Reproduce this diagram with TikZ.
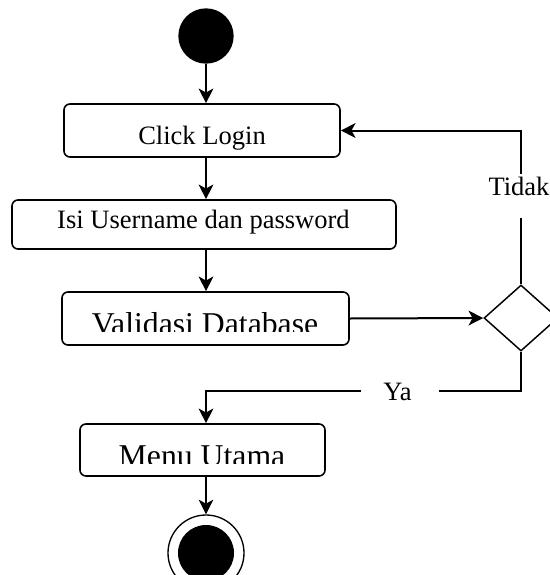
\documentclass[tikz,border=0pt]{standalone}
\usepackage{fontspec}
\setmainfont{Liberation Serif}
\usetikzlibrary{shapes.geometric,arrows.meta}

\begin{document}
\begin{tikzpicture}[x=0.75pt,y=0.75pt,yscale=-1,xscale=1,
  actbox/.style={draw,line width=1.2pt,rounded corners=4.5pt,inner sep=0pt},
  txt/.style={inner sep=0pt,font=\fontsize{19.9}{24}\selectfont},
  bigtxt/.style={inner sep=0pt,font=\fontsize{23.8}{28}\selectfont},
  flow/.style={line width=1.5pt,-{Stealth[length=11pt,width=11pt,inset=3pt]}},
  branch/.style={line width=1.2pt}]
\clip (0,0) rectangle (550,575);

%Start
\node [circle,fill,minimum size=41.5pt,inner sep=0pt] (start) at (206,36) {};
%Click Login
\node [actbox,minimum width=207pt,minimum height=39.75pt] (click) at (202,130.5) {};
\node [txt,anchor=base] (clicktxt) at (202,144) {Click Login};
%Isi Username
\node [actbox,minimum width=288pt,minimum height=36.75pt] (isi) at (204,224.5) {};
\node [txt,anchor=base] (isitxt) at (203.5,228) {Isi Username dan password};
%Validasi Database
\node [actbox,minimum width=215.25pt,minimum height=39.75pt] (valid) at (205.5,318.5) {};
\begin{scope}
\clip (70,300) rectangle (340,331.5);
\node [bigtxt,anchor=base] (validtxt) at (205,334) {Validasi Database};
\end{scope}
%Decision
\node [diamond,draw,line width=1.1pt,minimum width=55.5pt,minimum height=49.5pt,inner sep=0pt] (dec) at (521,318) {};
%Menu Utama
\node [actbox,minimum width=183.75pt,minimum height=39pt] (menu) at (202.5,450) {};
\begin{scope}
\clip (90,430) rectangle (320,463.5);
\node [bigtxt,anchor=base] (menutxt) at (202,466.6) {Menu Utama};
\end{scope}
%End
\node [circle,draw,line width=1pt,minimum size=57pt,inner sep=0pt] (fin) at (206,553) {};
\node [circle,fill,minimum size=42pt,inner sep=0pt] (finin) at (fin) {};

% Text Node
\node [txt,anchor=base] (tidak) at (519,195) {Tidak};
% Text Node
\node [txt,anchor=base] (ya) at (397.5,400) {Ya};

\coordinate (tktop) at (521,174);
\coordinate (tkbot) at (521,218);
\coordinate (yar) at (439,391);
\coordinate (yal) at (361,391);

%Flow
\draw [flow] (start) -- (start |- click.north);
\draw [flow] (click.south -| start) -- (isi.north -| start);
\draw [flow] (isi.south -| start) -- (valid.north -| start);
\draw [flow] (valid.east) -- (dec.west);
\draw [branch] (dec.north) -- (tkbot);
\draw [flow] (tktop) |- (click.east);
\draw [branch] (dec.south) |- (yar);
\draw [flow] (yal) -| (menu.north -| start);
\draw [flow] (menu.south -| fin) -- (fin.north);

\end{tikzpicture}
\end{document}
